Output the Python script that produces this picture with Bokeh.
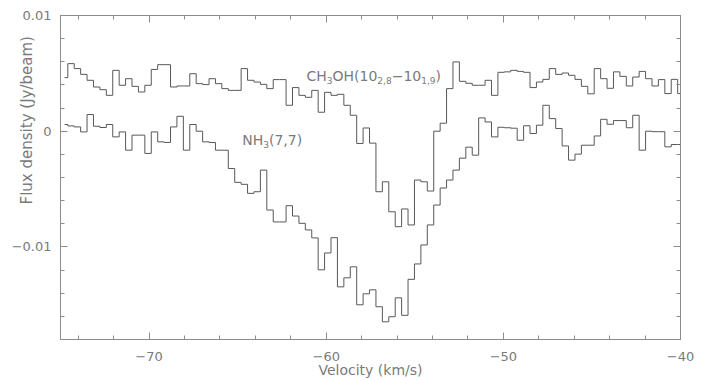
import numpy as np
from bokeh.plotting import figure
from bokeh.models import (Range1d, LinearAxis, SingleIntervalTicker,
                          CustomJSTickFormatter, ColumnDataSource)
from bokeh.core.properties import value
from bokeh.embed import file_html
from bokeh.resources import INLINE

# ---------------- data ----------------
v_first_channel = -74.769   # km/s, centre of first channel
channel_width = 0.3624      # km/s

# flux densities in mJy/beam, one value per channel
ch3oh_mjy = [4.63, 5.84, 5.41, 4.91, 4.40, 3.82, 3.59, 3.10, 5.26, 3.97,
             4.54, 3.88, 3.39, 3.97, 5.34, 5.75, 5.75, 3.82, 3.91, 3.91,
             4.97, 4.11, 4.03, 4.54, 4.11, 3.68, 3.53, 3.53, 5.41, 4.40,
             4.25, 4.05, 3.68, 4.46, 4.46, 2.24, 3.77, 3.10, 2.93, 3.53,
             1.64, 3.36, 3.10, 3.19, 2.24, 1.38, -1.06, 0.28, -1.03, -5.23,
             -4.37, -6.96, -8.25, -6.72, -8.10, -4.22, -4.37, -5.17, 0.00, 0.69,
             3.68, 5.99, 4.31, 4.14, 3.97, 3.97, 4.40, 3.10, 5.09, 5.13,
             5.26, 5.17, 5.09, 3.77, 4.25, 4.48, 5.41, 4.91, 5.03, 4.83,
             4.48, 3.88, 3.23, 5.41, 4.54, 3.71, 5.13, 4.74, 3.91, 4.68,
             5.17, 4.54, 3.91, 4.46, 3.25, 4.48, 3.25]

nh3_mjy = [0.58, 0.46, 0.37, -0.06, 1.44, 0.43, 0.32, 0.58, -0.49, -0.06,
           -1.64, -0.34, -0.34, -1.92, -0.06, -0.92, -0.97, 0.37, 1.29, -1.64,
           0.58, 0.00, -0.92, -0.97, -1.64, -1.64, -3.22, -4.42, -4.59, -5.37,
           -5.23, -3.36, -6.81, -7.84, -7.84, -6.44, -7.33, -7.96, -8.53, -9.22,
           -11.98, -10.52, -9.20, -13.45, -12.67, -11.72, -15.00, -14.05, -13.71, -15.17,
           -16.47, -16.03, -14.40, -15.91, -12.80, -11.47, -9.83, -8.10, -6.38, -4.91,
           -4.22, -3.36, -2.33, -1.38, -2.07, 1.15, 0.80, -0.49, 0.34, 0.30,
           0.26, -0.78, 0.47, -0.20, 0.52, 2.24, 1.09, 0.23, -1.27, -2.50,
           -1.98, -1.21, -1.21, -0.41, 1.03, 0.60, 0.92, 0.92, 0.30, 1.38,
           -1.64, 0.00, -0.04, -0.04, -1.35, -1.15, -1.15]

x_tick_interval = 10
y_tick_interval = 0.01

velocity = v_first_channel + channel_width * np.arange(len(ch3oh_mjy))
src = ColumnDataSource(dict(
    v=velocity,
    ch3oh=np.array(ch3oh_mjy) * 1e-3,
    nh3=np.array(nh3_mjy) * 1e-3,
))

# ---------------- styling ----------------
AX = "#8c8c8c"
TXT = "#7a7a7a"
LINE = "#585858"
FONT = "DejaVu Sans"

p = figure(width=709, height=380,
           x_range=Range1d(-75, -40), y_range=Range1d(-0.018, 0.01),
           output_backend="svg", toolbar_location=None,
           x_axis_type=None, y_axis_type=None,
           min_border_left=60, min_border_right=29,
           min_border_top=15, min_border_bottom=40)
p.xgrid.visible = False
p.ygrid.visible = False
p.outline_line_color = AX
p.background_fill_color = "white"
p.border_fill_color = "white"

xfmt = CustomJSTickFormatter(code="return (tick < 0 ? '\u2212' : '') + Math.abs(tick).toFixed(0);")
yfmt = CustomJSTickFormatter(code="if (Math.abs(tick) < 1e-9) return '0';"
                                  "return (tick < 0 ? '\u2212' : '') + Math.abs(tick).toFixed(2);")
blank = CustomJSTickFormatter(code="return '';")


def make_axis(interval, formatter, show_labels, standoff=8):
    ax = LinearAxis(ticker=SingleIntervalTicker(interval=interval, num_minor_ticks=5),
                    formatter=formatter)
    ax.axis_line_color = AX
    ax.major_tick_line_color = AX
    ax.minor_tick_line_color = AX
    ax.major_tick_in = 7
    ax.major_tick_out = 0
    ax.minor_tick_in = 4
    ax.minor_tick_out = 0
    ax.major_label_text_font = FONT
    ax.major_label_text_color = TXT
    if show_labels:
        ax.major_label_text_font_size = "13px"
        ax.major_label_standoff = standoff
    else:
        ax.major_label_text_font_size = "1px"
        ax.major_label_standoff = 0
    return ax


xb = make_axis(x_tick_interval, xfmt, True, standoff=12)
xb.axis_label = "Velocity (km/s)"
xb.axis_label_text_font = FONT
xb.axis_label_text_font_size = "14px"
xb.axis_label_text_font_style = "normal"
xb.axis_label_text_color = TXT
xb.axis_label_standoff = -2
p.add_layout(xb, "below")

yl = make_axis(y_tick_interval, yfmt, True, standoff=9)
# the label sits above the frame centre: pad its start with no-break spaces
yl.axis_label = "\u00a0" * 24 + "Flux density (Jy/beam)"
yl.axis_label_text_font = FONT
yl.axis_label_text_font_size = "15px"
yl.axis_label_text_font_style = "normal"
yl.axis_label_text_color = TXT
yl.axis_label_standoff = -27
p.add_layout(yl, "left")
p.add_layout(make_axis(x_tick_interval, blank, False), "above")
p.add_layout(make_axis(y_tick_interval, blank, False), "right")

p.step(x="v", y="ch3oh", source=src, mode="center", line_color=LINE, line_width=1)
p.step(x="v", y="nh3", source=src, mode="center", line_color=LINE, line_width=1)

# ---------------- line labels ----------------
lab = ColumnDataSource(dict(
    x=[-61.11] * 7 + [-64.74] * 3,
    y=[0.00474] * 7 + [-0.00078] * 3,
    text=["CH", "3", "OH(10", "2,8", "\u221210", "1,9", ")", "NH", "3", "(7,7)"],
    xo=[0, 20.3, 26.0, 70.8, 85.1, 114.6, 128.9, 0, 21.0, 26.7],
    yo=[0, 4, 0, 4, 0, 4, 0, 0, 4, 0],
    fs=["14px", "9px", "14px", "9px", "14px", "9px", "14px", "14px", "9px", "14px"],
))
p.text(x="x", y="y", text="text", x_offset="xo", y_offset="yo", text_font_size="fs",
       source=lab, text_font=value(FONT), text_color=TXT,
       text_align="left", text_baseline="alphabetic")

open("out.html", "w").write(file_html(p, INLINE))
